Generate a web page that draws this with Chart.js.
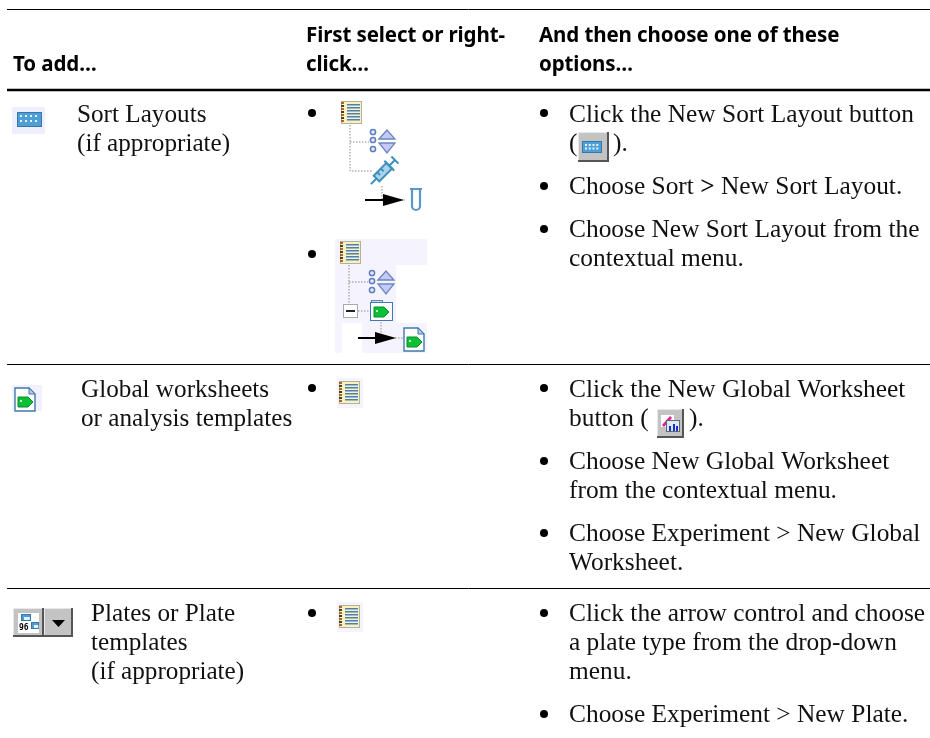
<!DOCTYPE html>
<html>
<head>
<meta charset="utf-8">
<style>html,body{margin:0;padding:0;background:#fff}canvas{display:block}</style>
<script src="https://cdn.jsdelivr.net/npm/chart.js@4"></script>
</head>
<body>
<canvas id="c" width="930" height="738"></canvas>
<script>
// table content
const headers = ["To add…", "First select or right-", "click…", "And then choose one of these", "options…"];
const rowLabels = ["Sort Layouts", "(if appropriate)", "Global worksheets", "or analysis templates", "Plates or Plate", "templates", "(if appropriate)"];
const options = [
  "Click the New Sort Layout button", "(", ").",
  "Choose Sort *>* New Sort Layout.",
  "Choose New Sort Layout from the", "contextual menu.",
  "Click the New Global Worksheet", "button (", ").",
  "Choose New Global Worksheet", "from the contextual menu.",
  "Choose Experiment > New Global", "Worksheet.",
  "Click the arrow control and choose", "a plate type from the drop-down", "menu.",
  "Choose Experiment > New Plate.",
];

// page layout, same order as the text above
const headerX = [13, 306, 306, 539, 539];
const headerY = [71, 42, 71, 42, 71];
const labelX = [77, 77, 81, 81, 91, 91, 91];
const labelY = [122, 151, 397, 426, 621, 650, 679];
const optionX = [569, 569, 613, 569, 569, 569, 569, 569, 689, 569, 569, 569, 569, 569, 569, 569, 569];
const optionY = [122, 151, 151, 194, 237, 266, 397, 426, 426, 469, 498, 541, 570, 621, 650, 679, 722];
const ruleY = [9.5, 90, 364.5, 588.5];
const ruleW = [1, 2.5, 1, 1];
const bullets = [[312, 113], [312, 254], [312, 388], [312, 613], [544, 113], [544, 186], [544, 229], [544, 388], [544, 461], [544, 533], [544, 613], [544, 714]];

const SERIF = '"Liberation Serif"', SANS = '"Noto Sans"';

const rect = (g, x, y, w, h, fill, line) => {
  if (fill) { g.fillStyle = fill; g.fillRect(x, y, w, h); }
  if (line) { g.strokeStyle = line; g.lineWidth = 1; g.strokeRect(x + 0.5, y + 0.5, w - 1, h - 1); }
};
const poly = (g, pts, fill, line, lw = 1) => {
  g.beginPath();
  pts.forEach((p, i) => (i ? g.lineTo(p[0], p[1]) : g.moveTo(p[0], p[1])));
  g.closePath();
  if (fill) { g.fillStyle = fill; g.fill(); }
  if (line) { g.strokeStyle = line; g.lineWidth = lw; g.stroke(); }
};
const dots = (g, pts) => {
  g.save();
  g.setLineDash([1.5, 1.5]);
  g.strokeStyle = "#8a8a8a";
  g.lineWidth = 1;
  g.beginPath();
  pts.forEach((p, i) => (i ? g.lineTo(p[0], p[1]) : g.moveTo(p[0], p[1])));
  g.stroke();
  g.restore();
};

function notebook(g, x, y) {
  rect(g, x, y, 21, 23, "#f6f2c4", "#b5b09a");
  for (let i = 0; i < 7; i++) rect(g, x, y + 1 + i * 3, 3, 2, i % 2 ? "#5a3a18" : "#a8662a");
  for (let i = 0; i < 6; i++) rect(g, x + 6, y + 3 + i * 3, 13, 1.5, "#4d7fb4");
}
function sortIcon(g, x, y) {
  [3, 11, 20].forEach((d) => {
    g.beginPath();
    g.arc(x + 3, y + d, 2.6, 0, Math.PI * 2);
    g.fillStyle = "#e6e9fb";
    g.fill();
    g.strokeStyle = "#5f7cba";
    g.lineWidth = 1.5;
    g.stroke();
  });
  poly(g, [[x + 9, y + 10], [x + 17, y + 1], [x + 25, y + 10]], "#c3caf4", "#6c86c4", 1.3);
  poly(g, [[x + 9, y + 14], [x + 25, y + 14], [x + 17, y + 24]], "#c3caf4", "#6c86c4", 1.3);
}
function syringe(g, x, y) {
  g.save();
  g.translate(x, y);
  g.rotate(-Math.PI / 4);
  g.strokeStyle = "#3f8fbe";
  g.lineWidth = 2;
  g.fillStyle = "#a9d3ea";
  g.fillRect(5, -4, 18, 8);
  g.strokeRect(5, -4, 18, 8);
  g.beginPath();
  g.moveTo(-3, 0); g.lineTo(5, 0);
  g.moveTo(23, -7); g.lineTo(23, 7);
  g.moveTo(23, 0); g.lineTo(31, 0);
  g.moveTo(31, -5); g.lineTo(31, 5);
  g.moveTo(10, -4); g.lineTo(10, 0);
  g.moveTo(15, -4); g.lineTo(15, 0);
  g.stroke();
  g.restore();
}
function tube(g, x, y) {
  g.strokeStyle = "#5a97cc";
  g.lineWidth = 2.2;
  g.beginPath();
  g.moveTo(x, y); g.lineTo(x + 12, y);
  g.moveTo(x + 2, y); g.lineTo(x + 2, y + 17);
  g.arc(x + 6, y + 17, 4, Math.PI, 0, true);
  g.lineTo(x + 10, y);
  g.stroke();
}
function arrow(g, x1, x2, y) {
  rect(g, x1, y - 1, x2 - x1 - 10, 2, "#000");
  poly(g, [[x2 - 21, y - 6], [x2, y], [x2 - 21, y + 6]], "#000");
}
const tag = (g, x, y) => {
  poly(g, [[x, y], [x + 10, y], [x + 15, y + 5], [x + 10, y + 10], [x, y + 10]], "#0cc035", "#0a8a30");
  rect(g, x + 2, y + 3, 2, 2, "#c8f5d0");
};
function folderTag(g, x, y) {
  rect(g, x + 1, y, 12, 3, "#cfd8ee", "#5a86b8");
  rect(g, x, y + 2, 23, 19, "#fff", "#3f78b0");
  tag(g, x + 4, y + 7);
}
function docTag(g, x, y) {
  poly(g, [[x, y], [x + 14, y], [x + 20, y + 6], [x + 20, y + 23], [x, y + 23]], "#fff", "#3f78b0", 1.4);
  poly(g, [[x + 14, y], [x + 20, y + 6], [x + 14, y + 6]], "#b9c8e8", "#3f78b0");
  tag(g, x + 3, y + 9);
}
function plateIcon(g, x, y, w, h) {
  rect(g, x, y, w, h, "#4f9fd6", "#3478ad");
  for (let r = 0; r < 2; r++) for (let c = 0; c < 4; c++) rect(g, x + 3 + c * (w - 5) / 4, y + 3 + r * (h - 5) / 2, 2, 2, "#e4f3ff");
}
function button(g, x, y, w, h) {
  rect(g, x, y, w, h, "#c3c3c3");
  rect(g, x, y, w, 1, "#e8e8e8");
  rect(g, x, y, 1, h, "#e8e8e8");
  rect(g, x, y + h - 2, w, 2, "#555");
  rect(g, x + w - 2, y, 2, h, "#555");
}

function drawIcons(g) {
  // row 1 icon
  rect(g, 12, 107, 33, 27, "#eeeefc");
  plateIcon(g, 17, 112, 25, 15);

  // first tree
  dots(g, [[350, 125], [350, 171], [372, 171]]);
  dots(g, [[350, 142], [369, 142]]);
  dots(g, [[382, 186], [382, 200], [405, 200]]);
  notebook(g, 341, 101);
  sortIcon(g, 370, 129);
  syringe(g, 373, 182);
  tube(g, 410, 189);
  arrow(g, 365, 404, 200);

  // second tree, lavender behind the icons
  rect(g, 335, 239, 92, 26, "#f5f4fe");
  rect(g, 335, 265, 61, 58, "#f5f4fe");
  rect(g, 335, 323, 7, 30, "#f5f4fe");
  rect(g, 362, 323, 65, 30, "#f5f4fe");
  dots(g, [[349, 265], [349, 304]]);
  dots(g, [[349, 282], [368, 282]]);
  dots(g, [[358, 311], [370, 311]]);
  dots(g, [[381, 322], [381, 338], [403, 338]]);
  notebook(g, 340, 241);
  sortIcon(g, 369, 270);
  rect(g, 343, 304, 15, 14, "#fff", "#aaa");
  rect(g, 346, 310, 9, 2, "#222");
  folderTag(g, 370, 300);
  docTag(g, 404, 328);
  arrow(g, 358, 396, 338);

  // inline button, row 1 options
  button(g, 578, 132, 31, 30);
  plateIcon(g, 582, 141, 20, 12);

  // row 2 icons
  rect(g, 12, 385, 30, 26, "#f1f1fd");
  docTag(g, 15, 388);
  rect(g, 337, 378, 26, 30, "#f5f4fe");
  notebook(g, 339, 381);
  button(g, 657, 409, 27, 29);
  rect(g, 661, 415, 13, 12, "#fff");
  poly(g, [[662, 425], [670, 416], [672, 418], [664, 427]], "#e0209a");
  rect(g, 666, 420, 14, 12, "#dfe7f5", "#666");
  rect(g, 669, 426, 2, 5, "#1030e0");
  rect(g, 673, 424, 2, 7, "#1030e0");
  rect(g, 676, 426, 2, 5, "#1030e0");

  // row 3 icons
  button(g, 13, 608, 31, 29);
  rect(g, 18, 613, 21, 20, "#fff");
  plateIcon(g, 21, 614, 10, 7);
  plateIcon(g, 31, 622, 8, 7);
  g.fillStyle = "#000";
  g.font = 'bold 8px "DejaVu Sans Mono"';
  g.fillText("96", 19, 630);
  button(g, 44, 608, 29, 29);
  poly(g, [[52, 620], [65, 620], [58.5, 627]], "#000");
  rect(g, 337, 602, 26, 30, "#f5f4fe");
  notebook(g, 339, 605);
}

function runs(g, str, x, y, font) {
  // *>* marks the bold chevron in a menu path
  str.split("*").forEach((part, i) => {
    g.font = (i === 1 ? "bold " : "") + font;
    g.fillText(part, x, y);
    x += g.measureText(part).width;
  });
}

const tablePlugin = {
  id: "table",
  afterDatasetsDraw(chart) {
    const g = chart.ctx, { x, y } = chart.scales;
    g.save();
    drawIcons(g);
    g.textBaseline = "alphabetic";
    g.fillStyle = "#000";
    headers.forEach((t, i) => {
      g.font = `bold 20.5px ${SANS}`;
      g.letterSpacing = "-0.1px";
      g.fillText(t, x.getPixelForValue(headerX[i]), y.getPixelForValue(headerY[i]));
    });
    g.letterSpacing = "0px";
    g.fillStyle = "#111";
    rowLabels.forEach((t, i) => {
      g.font = `25.2px ${SERIF}`;
      g.fillText(t, x.getPixelForValue(labelX[i]), y.getPixelForValue(labelY[i]));
    });
    options.forEach((t, i) => {
      runs(g, t, x.getPixelForValue(optionX[i]), y.getPixelForValue(optionY[i]), `25.4px ${SERIF}`);
    });
    g.restore();
  },
};

const rules = ruleY.map((v, i) => ({
  type: "line",
  data: [{ x: 7, y: v }, { x: 930, y: v }],
  borderColor: "#000",
  borderWidth: ruleW[i],
  pointRadius: 0,
}));

new Chart(document.getElementById("c"), {
  type: "scatter",
  data: {
    datasets: [
      ...rules,
      {
        data: bullets.map((b) => ({ x: b[0], y: b[1] })),
        backgroundColor: "#000",
        borderWidth: 0,
        pointRadius: 4,
      },
    ],
  },
  options: {
    responsive: false,
    animation: false,
    layout: { padding: 0, autoPadding: false },
    plugins: { legend: { display: false }, tooltip: { enabled: false } },
    scales: {
      x: { type: "linear", min: 0, max: 930, display: false },
      y: { type: "linear", min: 0, max: 738, reverse: true, display: false },
    },
  },
  plugins: [tablePlugin],
});
</script>
</body>
</html>
